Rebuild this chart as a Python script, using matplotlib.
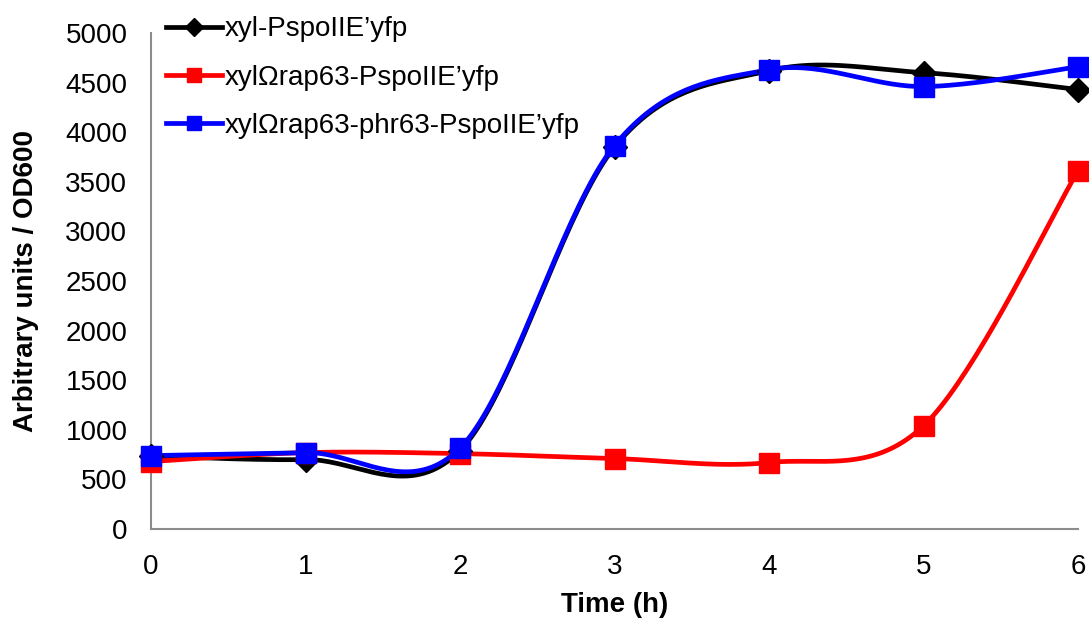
import matplotlib
matplotlib.use('Agg')
import matplotlib.pyplot as plt
import numpy as np

plt.rcParams['font.family'] = ['Liberation Sans', 'DejaVu Sans']

time_h = [0, 1, 2, 3, 4, 5, 6]
xyl = [735, 700, 790, 3850, 4620, 4600, 4430]
xyl_rap63 = [680, 770, 760, 710, 670, 1040, 3610]
xyl_rap63_phr63 = [740, 770, 815, 3865, 4630, 4460, 4660]

labels = ["xyl-PspoIIE\u2019yfp",
          "xyl\u03a9rap63-PspoIIE\u2019yfp",
          "xyl\u03a9rap63-phr63-PspoIIE\u2019yfp"]


def smooth(x, y, n=40):
    # Excel-like smoothed line: cubic Bezier with Catmull-Rom control points
    x = np.asarray(x, float)
    y = np.asarray(y, float)
    px = np.concatenate([[x[0]], x, [x[-1]]])
    py = np.concatenate([[y[0]], y, [y[-1]]])
    xs, ys = [], []
    t = np.linspace(0, 1, n)
    for i in range(len(x) - 1):
        p0 = np.array([px[i + 1], py[i + 1]])
        p3 = np.array([px[i + 2], py[i + 2]])
        c1 = p0 + (p3 - np.array([px[i], py[i]])) / 6
        c2 = p3 - (np.array([px[i + 3], py[i + 3]]) - p0) / 6
        b = (((1 - t) ** 3)[:, None] * p0 + (3 * (1 - t) ** 2 * t)[:, None] * c1
             + (3 * (1 - t) * t ** 2)[:, None] * c2 + (t ** 3)[:, None] * p3)
        xs.extend(b[:, 0])
        ys.extend(b[:, 1])
    return xs, ys


fig = plt.figure(figsize=(10.89, 6.19), dpi=100)
ax = fig.add_axes([151 / 1089, 1 - 529 / 619, (1078 - 151) / 1089, (529 - 33) / 619])

series = [(xyl, 'black', 'D', 12), (xyl_rap63, '#ff0000', 's', 14), (xyl_rap63_phr63, '#0000ff', 's', 14)]
for (vals, color, marker, ms), label in zip(series, labels):
    sx, sy = smooth(time_h, vals)
    ax.plot(sx, sy, color=color, linewidth=3.4, zorder=2)
    ax.plot(time_h, vals, linestyle='none', marker=marker, color=color,
            markersize=ms, zorder=3, clip_on=False)
    ax.plot([], [], color=color, linewidth=3.4, marker=marker,
            markersize=ms * 0.75, label=label)

ax.set_xlim(0, 6)
ax.set_ylim(0, 5000)
ax.set_xticks(time_h)
ax.set_yticks(np.arange(0, 5001, 500))
ax.tick_params(axis='y', labelsize=20, length=0, pad=17)
ax.tick_params(axis='x', labelsize=20, length=0, pad=18)
for s in ['top', 'right']:
    ax.spines[s].set_visible(False)
for s in ['left', 'bottom']:
    ax.spines[s].set_color('#8c8c8c')
    ax.spines[s].set_linewidth(1.5)

ax.set_xlabel('Time (h)', fontsize=20, fontweight='bold', labelpad=9)
ax.set_ylabel('Arbitrary units / OD600', fontsize=20, fontweight='bold', labelpad=19)

ax.legend(loc='upper left', bbox_to_anchor=(147 / 1089, 1 + 3 / 619),
          bbox_transform=fig.transFigure, frameon=False, fontsize=20,
          handlelength=2.0, handletextpad=0.1, labelspacing=0.8, borderpad=0.2)

plt.savefig('out.png', dpi=100, facecolor='white')
